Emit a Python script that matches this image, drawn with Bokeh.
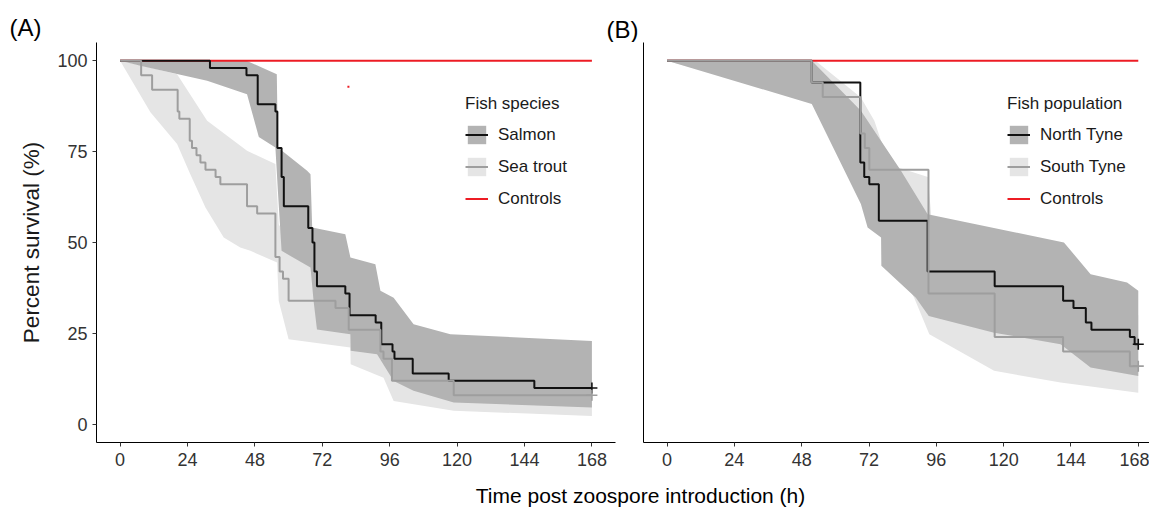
from bokeh.plotting import figure
from bokeh.models import Legend, LegendItem, FixedTicker, Label
from bokeh.layouts import column, row
from bokeh.embed import file_html
from bokeh.resources import INLINE

FONT = "Liberation Sans"

# ---------------- data : panel A (fish species) ----------------
salmon_t = [0, 32, 45, 49, 55.3, 56, 57.5, 58.3, 67, 68.5, 69.2, 70.1, 80.2, 81.7, 91, 93, 97, 97.7, 104.2, 117, 147.5, 168]
salmon_s = [100, 98, 96, 88, 86, 76, 68, 60, 54, 50, 42, 38, 36, 30, 28, 22, 20, 18, 14, 12, 10, 10]
salmon_hi_t = [0, 45, 55.8, 56.2, 66.6, 67.8, 68.4, 80.2, 82, 90.9, 92.7, 97.4, 104.5, 117.6, 168]
salmon_hi_s = [100, 100, 96.3, 76.1, 69.7, 68.8, 54.1, 52.3, 45.9, 44, 36.7, 34.8, 27.5, 24.8, 22.9]
salmon_lo_t = [0, 8, 31, 45.2, 49.4, 55.3, 56.2, 57.5, 67.8, 68.9, 70.1, 82, 82.1, 91.5, 97.4, 104.5, 118.8, 168]
salmon_lo_s = [100, 98.5, 94.5, 90.8, 79, 76.1, 64, 47.7, 43.1, 33.9, 26.1, 24.8, 20.2, 19.3, 11.9, 9.2, 6, 4.6]

trout_t = [0, 7.5, 11.4, 20.5, 21.1, 24.8, 25.6, 27.2, 28.6, 30.4, 34, 35.7, 45.2, 48.8, 55.3, 56.8, 58, 60, 76.7, 81.4, 92.7, 93.8, 96.8, 118.8, 168]
trout_s = [100, 96, 92, 86, 84, 78, 76, 74, 72, 70, 68, 66, 60, 58, 46, 42, 40, 34, 32, 26, 20, 18, 12, 8, 8]
trout_hi_t = [0, 8, 20.3, 31, 45.2, 55.3, 56.5, 60, 70, 82, 93, 98, 119, 168]
trout_hi_s = [100, 98.6, 96.3, 83.5, 75.2, 71.6, 55, 50, 44, 40, 28, 20, 15, 14]
trout_lo_t = [0, 10.8, 20.3, 25, 30.4, 36.9, 42.8, 46.4, 55.9, 56.5, 60, 82, 82.1, 93.8, 97.4, 118.8, 168]
trout_lo_s = [100, 85.8, 77.1, 68.8, 59.6, 51.4, 48.6, 47.7, 44.5, 33.9, 23.4, 21.1, 16.5, 12.8, 6.4, 3.7, 2.3]

# ---------------- data : panel B (fish population) ----------------
north_t = [0, 51.6, 68.9, 70.3, 72.1, 75.5, 92.9, 116.8, 141.2, 144.9, 149.3, 151.3, 165, 166.7, 168]
north_s = [100, 94, 72, 68, 66, 56, 42, 38, 34, 32, 28, 26, 24, 22, 22]
north_hi_t = [0, 51.6, 69.1, 83.4, 92.9, 141.5, 151, 164, 168]
north_hi_s = [100, 100, 86.2, 69.7, 57.8, 50, 41.3, 39, 36.7]
north_lo_t = [0, 51.6, 69.1, 71.5, 76.3, 76.4, 88.7, 93.3, 116.6, 140.3, 151, 168]
north_lo_s = [100, 88.1, 60.6, 54.1, 51.4, 43.6, 34.8, 29.8, 25.2, 22, 15.6, 13.3]

south_t = [0, 51.6, 55.5, 68.9, 70.5, 72.1, 93.2, 116.8, 141.2, 165, 168]
south_s = [100, 94, 90, 80, 76, 70, 36, 24, 20, 16, 16]
south_hi_t = [0, 52.9, 69.1, 73.9, 76.3, 81, 93, 95, 116, 141, 151, 168]
south_hi_s = [100, 100, 89.9, 83.5, 78, 71, 68, 50, 45, 40, 33, 30]
south_lo_t = [0, 51.6, 69, 76.3, 88.1, 93.5, 116.6, 140.3, 168]
south_lo_s = [100, 89, 62, 52, 34.8, 24.8, 14.7, 11.5, 8.7]

control_t = [0, 168]
control_s = [100, 100]
stray_t = [81.3]
stray_s = [92.8]

x_ticks = [0, 24, 48, 72, 96, 120, 144, 168]
y_ticks = [0, 25, 50, 75, 100]

DARK_FILL = "#b3b3b3"
LIGHT_FILL = "#e5e5e5"
DARK_LINE = "#111111"
LIGHT_LINE = "#9e9e9e"
RED = "#ed1c24"
TXT = "#333333"


def poly(hi_t, hi_s, lo_t, lo_s):
    return list(hi_t) + list(reversed(lo_t)), list(hi_s) + list(reversed(lo_s))


def panel(width, left, right, x_end, show_y):
    p = figure(width=width, height=436, x_range=(-8.4, x_end), y_range=(-5, 105),
               output_backend="svg", toolbar_location=None,
               min_border_left=left, min_border_right=right,
               min_border_top=0, min_border_bottom=36)
    p.outline_line_color = None
    p.xgrid.visible = False
    p.ygrid.visible = False
    p.background_fill_color = "white"
    p.border_fill_color = "white"
    for ax in (p.xaxis[0], p.yaxis[0]):
        ax.axis_line_color = "black"
        ax.axis_line_width = 1
        ax.major_tick_line_color = TXT
        ax.major_tick_out = 4
        ax.major_tick_in = 0
        ax.minor_tick_line_color = None
        ax.major_label_text_font = FONT
        ax.major_label_text_font_size = "18px"
        ax.major_label_text_color = TXT
    p.xaxis.ticker = FixedTicker(ticks=x_ticks)
    p.xaxis.major_label_standoff = 6
    if show_y:
        p.yaxis.ticker = FixedTicker(ticks=y_ticks)
        p.yaxis.major_label_standoff = 5
        p.yaxis.axis_label = "Percent survival (%)"
        p.yaxis.axis_label_text_font = FONT
        p.yaxis.axis_label_text_font_size = "22.5px"
        p.yaxis.axis_label_text_font_style = "normal"
        p.yaxis.axis_label_text_color = "#1a1a1a"
        p.yaxis.axis_label_standoff = 10
    else:
        p.yaxis.ticker = FixedTicker(ticks=[])
    return p


def draw(p, dark, light, names, title, loc):
    (d_t, d_s, dhi_t, dhi_s, dlo_t, dlo_s) = dark
    (l_t, l_s, lhi_t, lhi_s, llo_t, llo_s) = light
    lx, ly = poly(lhi_t, lhi_s, llo_t, llo_s)
    band_l = p.patch(lx, ly, fill_color=LIGHT_FILL, line_color=None)
    dx, dy = poly(dhi_t, dhi_s, dlo_t, dlo_s)
    band_d = p.patch(dx, dy, fill_color=DARK_FILL, line_color=None)
    ctrl = p.line(control_t, control_s, line_color=RED, line_width=2)
    line_d = p.step(d_t, d_s, mode="after", line_color=DARK_LINE, line_width=2)
    line_l = p.step(l_t, l_s, mode="after", line_color=LIGHT_LINE, line_width=2)
    p.scatter([d_t[-1]], [d_s[-1]], marker="cross", size=11, line_color=DARK_LINE, line_width=1.6)
    p.scatter([l_t[-1]], [l_s[-1]], marker="cross", size=11, line_color=LIGHT_LINE, line_width=1.6)
    items = [LegendItem(label=names[0], renderers=[band_d, line_d]),
             LegendItem(label=names[1], renderers=[band_l, line_l]),
             LegendItem(label="Controls", renderers=[ctrl])]
    leg = Legend(items=items, location=loc, title=title,
                 title_text_font=FONT, title_text_font_size="17px", title_text_font_style="normal",
                 title_text_color="#1a1a1a", title_standoff=9,
                 label_text_font=FONT, label_text_font_size="17px", label_text_color="#1a1a1a",
                 glyph_width=23, glyph_height=23, label_height=23, label_standoff=10, spacing=9,
                 padding=0, margin=0, border_line_color=None, background_fill_alpha=0)
    p.add_layout(leg)


pA = panel(629, 96, 14, 176.4, True)
draw(pA,
     (salmon_t, salmon_s, salmon_hi_t, salmon_hi_s, salmon_lo_t, salmon_lo_s),
     (trout_t, trout_s, trout_hi_t, trout_hi_s, trout_lo_t, trout_lo_s),
     ("Salmon", "Sea trout"), "Fish species", (369, 232))
pA.scatter(stray_t, stray_s, marker="square", size=2, fill_color=RED, line_color=None)

pB = panel(520, 14, 0, 172.0, False)
draw(pB,
     (north_t, north_s, north_hi_t, north_hi_s, north_lo_t, north_lo_s),
     (south_t, south_s, south_hi_t, south_hi_s, south_lo_t, south_lo_s),
     ("North Tyne", "South Tyne"), "Fish population", (364, 232))

# top strip with panel tags
top = figure(width=1149, height=42, x_range=(0, 1149), y_range=(0, 42),
             output_backend="svg", toolbar_location=None,
             x_axis_location=None, y_axis_location=None, min_border=0)
top.outline_line_color = None
top.xgrid.visible = False
top.ygrid.visible = False
for txt, x, y in (("(A)", 25, 15), ("(B)", 622, 13)):
    top.add_layout(Label(x=x, y=y, text=txt, text_align="center", text_baseline="middle",
                         text_font=FONT, text_font_size="24px", text_color="black"))

# bottom strip with shared x title
bot = figure(width=1149, height=30, x_range=(0, 1149), y_range=(0, 30),
             output_backend="svg", toolbar_location=None,
             x_axis_location=None, y_axis_location=None, min_border=0)
bot.outline_line_color = None
bot.xgrid.visible = False
bot.ygrid.visible = False
bot.add_layout(Label(x=640, y=13, text="Time post zoospore introduction (h)", text_align="center",
                     text_baseline="middle", text_font=FONT, text_font_size="21px", text_color="black"))

layout = column(top, row(pA, pB), bot)
open("out.html", "w").write(file_html(layout, INLINE))
